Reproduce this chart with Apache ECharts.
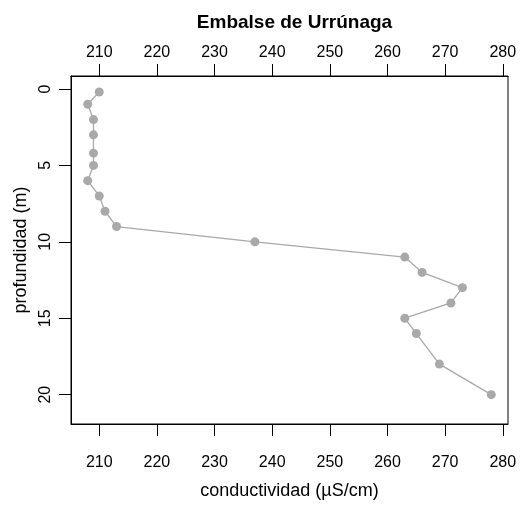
<!DOCTYPE html>
<html>
<head>
<meta charset="utf-8">
<script src="https://cdn.jsdelivr.net/npm/echarts@6/dist/echarts.min.js"></script>
<style>
  html, body { margin: 0; padding: 0; background: #fff; }
  #chart { width: 531px; height: 505px; }
</style>
</head>
<body>
<div id="chart"></div>
<script>
// conductividad vs profundidad, Embalse de Urrúnaga
var conductividad = [210, 208, 209, 209, 209, 209, 208, 210, 211, 213, 237, 263, 266, 273, 271, 263, 265, 269, 278];
var profundidad = [0.2, 1, 2, 3, 4.2, 5, 6, 7, 8, 9, 10, 11, 12, 13, 14, 15, 16, 18, 20];
var xTicks = [210, 220, 230, 240, 250, 260, 270, 280];
var yTicks = [0, 5, 10, 15, 20];

var puntos = [];
for (var i = 0; i < conductividad.length; i++) {
    puntos.push([conductividad[i], profundidad[i]]);
}

var fuente = 'Liberation Sans, Arial, sans-serif';
var gris = '#a9a9a9';

// eje x comun (abajo y arriba)
function ejeX(pos, margen) {
    return {
        type: 'value',
        position: pos,
        min: 205.1,
        max: 280.9,
        name: pos === 'bottom' ? 'conductividad (µS/cm)' : '',
        nameLocation: 'middle',
        nameGap: 58,
        nameTextStyle: { color: '#000', fontFamily: fuente, fontSize: 18 },
        axisLine: { show: true, onZero: false, lineStyle: { color: '#000', width: 1 } },
        axisTick: { show: true, length: 12, customValues: xTicks, lineStyle: { color: '#000', width: 1 } },
        axisLabel: { customValues: xTicks, margin: margen, color: '#000', fontFamily: fuente, fontSize: 16 },
        splitLine: { show: false }
    };
}

var myChart = echarts.init(document.getElementById('chart'));
myChart.setOption({
    animation: false,
    title: {
        text: 'Embalse de Urrúnaga',
        left: 289.5,
        top: 8,
        textAlign: 'center',
        textStyle: { color: '#000', fontFamily: fuente, fontSize: 19, fontWeight: 'bold' }
    },
    grid: {
        left: 71,
        right: 23,
        top: 76,
        bottom: 80,
        show: true,
        borderColor: '#000',
        borderWidth: 1,
        containLabel: false
    },
    xAxis: [ejeX('bottom', 31), ejeX('top', 15)],
    yAxis: {
        type: 'value',
        inverse: true,
        min: -0.85,
        max: 21.92,
        name: 'profundidad (m)',
        nameLocation: 'middle',
        nameGap: 40,
        nameTextStyle: { color: '#000', fontFamily: fuente, fontSize: 18 },
        axisLine: { show: true, onZero: false, lineStyle: { color: '#000', width: 1 } },
        axisTick: { show: true, length: 12, customValues: yTicks, lineStyle: { color: '#000', width: 1 } },
        axisLabel: { customValues: yTicks, rotate: 90, margin: 17, color: '#000', fontFamily: fuente, fontSize: 16 },
        splitLine: { show: false }
    },
    series: [
        {
            type: 'line',
            xAxisIndex: 0,
            data: puntos,
            symbol: 'circle',
            symbolSize: 9,
            showAllSymbol: true,
            itemStyle: { color: gris },
            lineStyle: { color: gris, width: 1.3 }
        }
    ]
});
</script>
</body>
</html>
